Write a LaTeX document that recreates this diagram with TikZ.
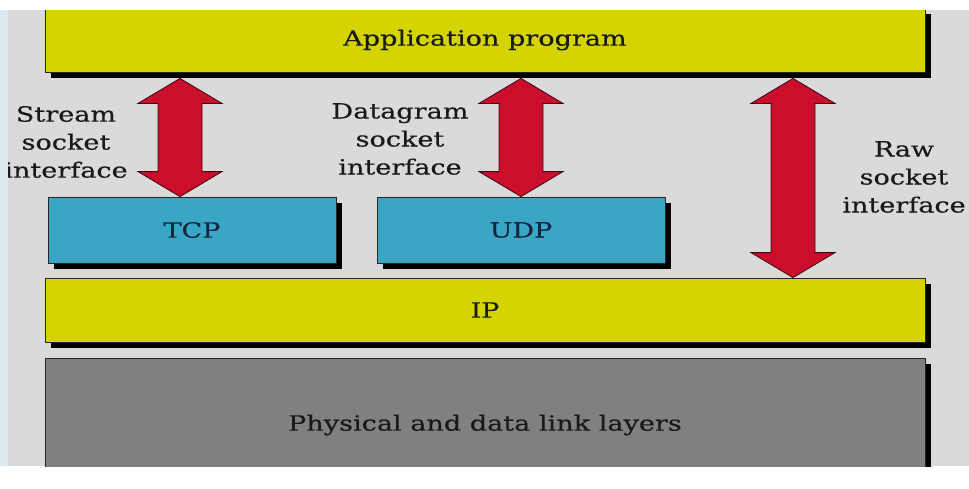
\documentclass[tikz,border=0pt]{standalone}
\usepackage{fontspec}
\setmainfont{DejaVu Serif}[FakeStretch=1.29, FakeBold=0.4]
\usepackage{xcolor}
\usepackage{tikz}
\usetikzlibrary{positioning}
\usetikzlibrary{calc}
\usetikzlibrary{shadows}

\definecolor{appyellow}{RGB}{212,212,0}
\definecolor{protoblue}{RGB}{58,166,198}
\definecolor{protoink}{RGB}{22,36,60}
\definecolor{linkgray}{RGB}{128,128,128}
\definecolor{panelgray}{RGB}{218,218,218}
\definecolor{edgeblue}{RGB}{222,234,240}
\definecolor{arrowred}{RGB}{202,14,44}
\definecolor{arrowedge}{RGB}{60,10,20}

\tikzset{
  layer/.style={draw=black!85, line width=0.8pt, inner sep=0pt,
    drop shadow={fill=black, opacity=1, shadow xshift=6pt, shadow yshift=-6pt},
    font=\fontsize{21}{28}\selectfont, text=black!90},
  sockettext/.style={align=center, inner sep=0pt,
    font=\fontsize{21}{28}\selectfont, text=black!90},
  twoway/.style={fill=arrowred, draw=arrowedge, line width=0.8pt, line join=miter}
}

\begin{document}
\begin{tikzpicture}[x=1pt, y=-1pt]
\useasboundingbox (0,0) rectangle (969,488);
\fill [white] (0,0) rectangle (969,488);
\fill [edgeblue] (0,10) rectangle (8,466);
\fill [panelgray] (8,10) rectangle (969,466);

\begin{scope}
\clip (8,10) rectangle (969,466);

% the layers
\node [layer, fill=appyellow, minimum width=880pt, minimum height=64pt] (app) at (485,40) {Application program};
\node [layer, fill=protoblue, text=protoink, minimum width=288pt, minimum height=66pt] (tcp) at (192,230) {TCP};
\node [layer, fill=protoblue, text=protoink, minimum width=288pt, minimum height=66pt] (udp) at (521,230) {UDP};
\node [layer, fill=appyellow, minimum width=880pt, minimum height=64pt] (ip) at (485,310) {IP};
\node [layer, fill=linkgray, minimum width=880pt, minimum height=134pt] (phy) at (485,425) {Physical and data link layers};

% where the arrows run
\coordinate (stream) at (180,0);
\coordinate (dgram) at (521,0);
\coordinate (raw) at (793,0);

\draw [twoway] ($(app.south -| stream)+(0,6)$) -- ++(42,25) -- ++(-20,0)
  -- ($(tcp.north -| stream)+(22,-25)$) -- ++(20,0) -- (tcp.north -| stream)
  -- ++(-42,-25) -- ++(20,0) -- ($(app.south -| stream)+(-22,31)$) -- ++(-20,0) -- cycle;
\draw [twoway] ($(app.south -| dgram)+(0,6)$) -- ++(42,25) -- ++(-20,0)
  -- ($(udp.north -| dgram)+(22,-25)$) -- ++(20,0) -- (udp.north -| dgram)
  -- ++(-42,-25) -- ++(20,0) -- ($(app.south -| dgram)+(-22,31)$) -- ++(-20,0) -- cycle;
\draw [twoway] ($(app.south -| raw)+(0,6)$) -- ++(42,25) -- ++(-20,0)
  -- ($(ip.north -| raw)+(22,-25)$) -- ++(20,0) -- (ip.north -| raw)
  -- ++(-42,-25) -- ++(20,0) -- ($(app.south -| raw)+(-22,31)$) -- ++(-20,0) -- cycle;

\node [sockettext] (streamtxt) at (66,142) {Stream\\socket\\interface};
\node [sockettext] (dgramtxt) at (400,139) {Datagram\\socket\\interface};
\node [sockettext] (rawtxt) at (904,177) {Raw\\socket\\interface};
\end{scope}
\end{tikzpicture}
\end{document}
